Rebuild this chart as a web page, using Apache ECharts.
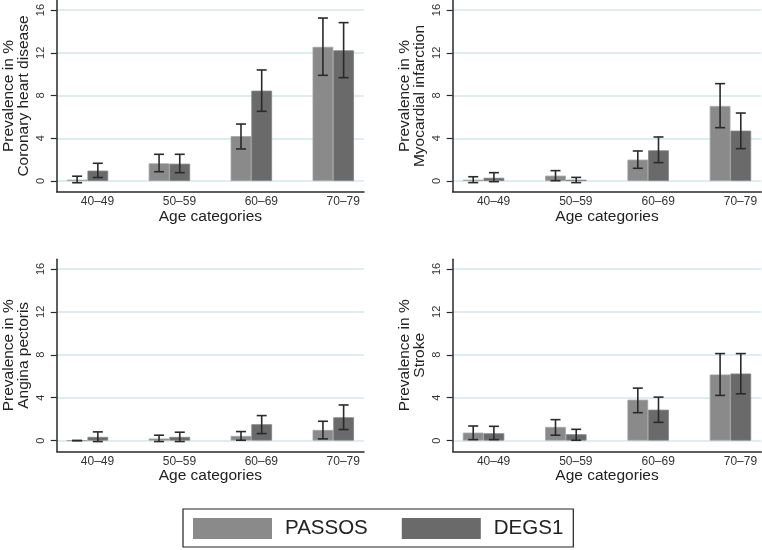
<!DOCTYPE html>
<html>
<head>
<meta charset="utf-8">
<script src="https://cdn.jsdelivr.net/npm/echarts@6/dist/echarts.min.js"></script>
<style>html,body{margin:0;padding:0;background:#fff;}#c{width:762px;height:550px;}</style>
</head>
<body>
<div id="c"></div>
<script>
// ---- data ----
const categories = ['40\u201349', '50\u201359', '60\u201369', '70\u201379'];
const yTicks = [0, 4, 8, 12, 16];
const seriesNames = ['PASSOS', 'DEGS1'];
const panelTitles = ['Coronary heart disease', 'Myocardial infarction', 'Angina pectoris', 'Stroke'];

const chdPassos = [0.12, 1.65, 4.2, 12.55];
const chdPassosCI = [[-0.16, 0.45], [0.87, 2.5], [3.0, 5.33], [9.89, 15.25]];
const chdDegs = [0.97, 1.62, 8.45, 12.23];
const chdDegsCI = [[0.33, 1.66], [0.78, 2.5], [6.52, 10.39], [9.67, 14.82]];

const miPassos = [0.12, 0.5, 2.0, 7.02];
const miPassosCI = [[-0.15, 0.4], [0.03, 0.97], [1.19, 2.81], [4.99, 9.11]];
const miDegs = [0.3, 0.12, 2.87, 4.71];
const miDegsCI = [[-0.06, 0.78], [-0.15, 0.34], [1.72, 4.12], [3.03, 6.36]];

const apPassos = [0.0, 0.19, 0.43, 0.99];
const apPassosCI = [[0.0, 0.0], [-0.09, 0.5], [0.03, 0.84], [0.16, 1.8]];
const apDegs = [0.34, 0.34, 1.52, 2.17];
const apDegsCI = [[-0.09, 0.81], [-0.09, 0.78], [0.65, 2.33], [1.03, 3.32]];

const strPassos = [0.74, 1.27, 3.81, 6.16];
const strPassosCI = [[0.09, 1.36], [0.5, 1.95], [2.6, 4.89], [4.21, 8.11]];
const strDegs = [0.68, 0.59, 2.88, 6.25];
const strDegsCI = [[0.09, 1.33], [0.03, 1.05], [1.7, 4.05], [4.36, 8.11]];

// ---- layout / style ----
const FONT = 'Liberation Sans';
const BAR_W = 20.7;
const CAP = 5;
const colors = ['#8a8a8a', '#6a6a6a'];
const borders = ['#a2a2a2', '#838383'];
const grids = [
  {left: 55, top: 0.4, width: 309, height: 191.3},
  {left: 452.7, top: 0.4, width: 308.6, height: 191.3},
  {left: 55, top: 259.3, width: 309, height: 192},
  {left: 452.7, top: 259.3, width: 308.6, height: 192}
];

const panels = [
  [chdPassos, chdPassosCI, chdDegs, chdDegsCI],
  [miPassos, miPassosCI, miDegs, miDegsCI],
  [apPassos, apPassosCI, apDegs, apDegsCI],
  [strPassos, strPassosCI, strDegs, strDegsCI]
];

function errRender(sign) {
  return function (params, api) {
    const x = api.value(0), lo = api.value(1), hi = api.value(2);
    const a = api.coord([x, lo]);
    const b = api.coord([x, hi]);
    const cx = a[0] + sign * BAR_W / 2;
    const style = {stroke: '#2a2a2a', lineWidth: 1.6};
    return {
      type: 'group',
      children: [
        {type: 'line', shape: {x1: cx, y1: a[1], x2: cx, y2: b[1]}, style: style},
        {type: 'line', shape: {x1: cx - CAP, y1: a[1], x2: cx + CAP, y2: a[1]}, style: style},
        {type: 'line', shape: {x1: cx - CAP, y1: b[1], x2: cx + CAP, y2: b[1]}, style: style}
      ]
    };
  };
}

const xAxes = [], yAxes = [], series = [];
panels.forEach(function (p, gi) {
  xAxes.push({
    type: 'value', gridIndex: gi, min: -0.375, max: 3.375,
    splitLine: {show: false},
    axisLine: {show: true, onZero: false, lineStyle: {color: '#2a2a2a', width: 1.5}},
    axisTick: {show: false, customValues: [0, 1, 2, 3]},
    axisLabel: {
      customValues: [0, 1, 2, 3],
      formatter: function (v) { return categories[Math.round(v)]; },
      fontFamily: FONT, fontSize: 12, color: '#333', margin: 4,
      padding: [0, 0, 0, 20]
    },
    name: 'Age categories', nameLocation: 'middle', nameGap: 14,
    nameTextStyle: {fontFamily: FONT, fontSize: 15.5, color: '#222'}
  });
  yAxes.push({
    type: 'value', gridIndex: gi, min: -1, max: 16.9,
    axisLine: {show: true, onZero: false, lineStyle: {color: '#2a2a2a', width: 1.5}},
    axisTick: {show: true, customValues: yTicks, length: 6, lineStyle: {color: '#2a2a2a', width: 1.2}},
    axisLabel: {customValues: yTicks, rotate: 90, fontFamily: FONT, fontSize: 11, color: '#333', margin: 10},
    splitLine: {show: true, lineStyle: {color: '#d8e4e8', width: 1.5}},
    name: 'Prevalence in %\n' + panelTitles[gi], nameLocation: 'middle', nameRotate: 90, nameGap: 26,
    nameTextStyle: {fontFamily: FONT, fontSize: 15.5, lineHeight: 14.5, color: '#222', align: 'center'}
  });
  for (let s = 0; s < 2; s++) {
    const vals = p[s * 2];
    series.push({
      type: 'bar', name: seriesNames[s], xAxisIndex: gi, yAxisIndex: gi,
      barWidth: BAR_W, barGap: '0%',
      itemStyle: {color: colors[s], borderColor: borders[s], borderWidth: 0.8},
      data: vals.map(function (v, i) { return [i, v]; })
    });
  }
  for (let s = 0; s < 2; s++) {
    const ci = p[s * 2 + 1];
    series.push({
      type: 'custom', name: 'ci' + s, xAxisIndex: gi, yAxisIndex: gi, z: 5,
      renderItem: errRender(s === 0 ? -1 : 1),
      encode: {x: 0, y: [1, 2]},
      data: ci.map(function (c, i) { return [i, c[0], c[1]]; })
    });
  }
});

const option = {
  animation: false,
  backgroundColor: '#ffffff',
  grid: grids,
  xAxis: xAxes,
  yAxis: yAxes,
  legend: {
    data: seriesNames,
    left: 183, top: 509,
    padding: [9, 10, 8, 10],
    itemWidth: 79, itemHeight: 21, itemGap: 34,
    icon: 'rect',
    borderColor: '#222', borderWidth: 1.2,
    itemStyle: {borderWidth: 0},
    textStyle: {fontFamily: FONT, fontSize: 20.5, color: '#222', padding: [0, 0, 0, 8]}
  },
  series: series
};

const chart = echarts.init(document.getElementById('c'), null, {renderer: 'canvas'});
chart.setOption(option);
</script>
</body>
</html>
